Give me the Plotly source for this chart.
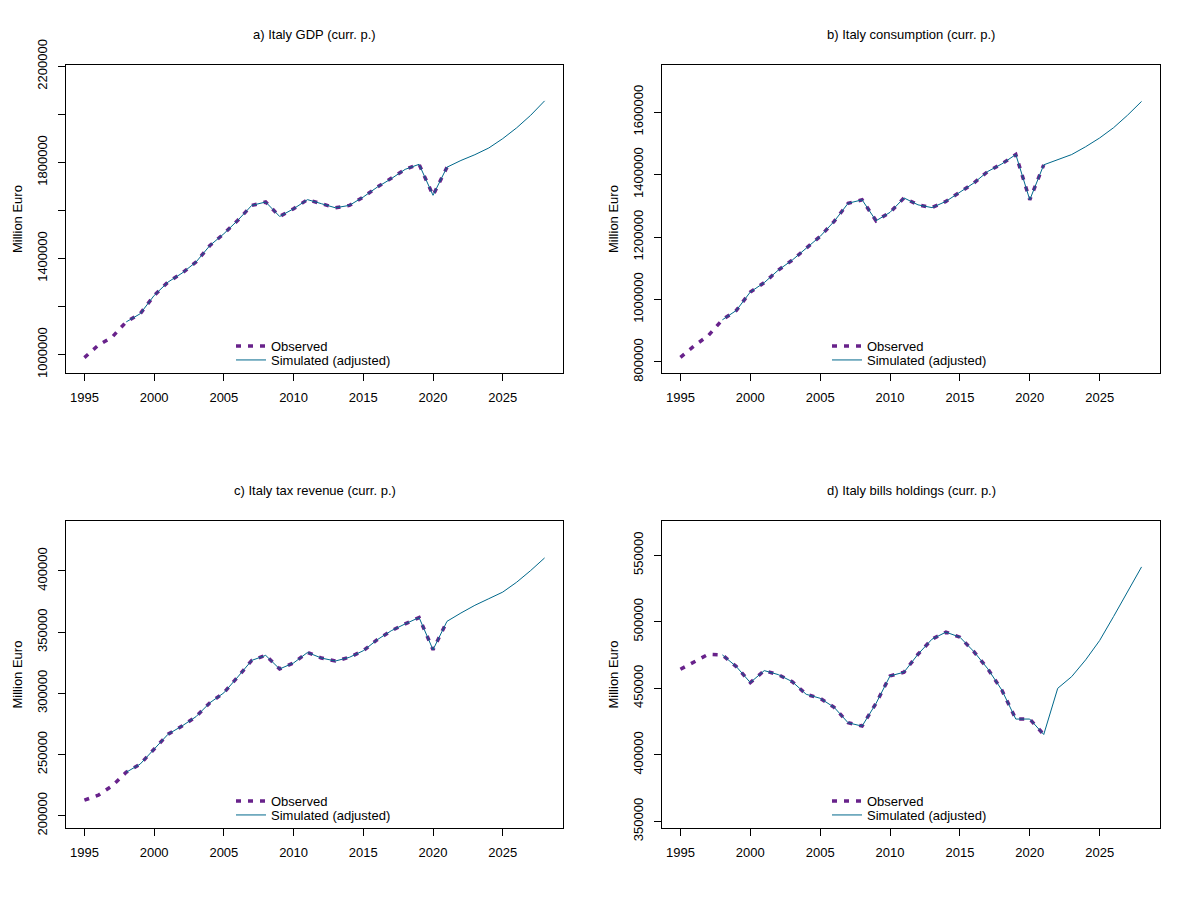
import plotly.graph_objects as go

# ---------------- data ----------------
obs_years = list(range(1995, 2022))
sim_years = list(range(1998, 2029))

gdp_obs = [987500, 1039000, 1073500, 1136000, 1170000, 1246000, 1302000, 1339000, 1385000,
           1454000, 1503000, 1559000, 1621000, 1635000, 1575000, 1607000, 1645000, 1628000,
           1611000, 1621000, 1656000, 1697000, 1732000, 1771000, 1792000, 1663000, 1780000]
gdp_sim = [1136000, 1170000, 1246000, 1302000, 1339000, 1385000, 1454000, 1503000, 1559000,
           1621000, 1635000, 1575000, 1607000, 1645000, 1628000, 1611000, 1621000, 1656000,
           1697000, 1732000, 1771000, 1792000, 1663000, 1780000,
           1808000, 1832000, 1860000, 1899000, 1944000, 1996000, 2056000]

cons_obs = [815000, 852000, 885000, 935000, 965000, 1024000, 1054000, 1094000, 1126000,
            1164000, 1202000, 1250000, 1308000, 1319000, 1252000, 1279000, 1325000, 1303000,
            1294000, 1314000, 1343000, 1373000, 1410000, 1434000, 1464000, 1319000, 1431000]
cons_sim = [935000, 965000, 1024000, 1054000, 1094000, 1126000, 1164000, 1202000, 1250000,
            1308000, 1319000, 1252000, 1279000, 1325000, 1303000, 1294000, 1314000, 1343000,
            1373000, 1410000, 1434000, 1464000, 1319000, 1431000,
            1448000, 1464000, 1489000, 1517000, 1550000, 1590000, 1634000]

tax_obs = [212700, 216800, 224500, 235500, 242200, 254400, 266600, 273300, 280900,
           292300, 300400, 313400, 326900, 331000, 319900, 324800, 333400, 328800,
           326400, 329400, 334800, 343800, 351100, 356700, 361900, 335600, 358800]
tax_sim = [235500, 242200, 254400, 266600, 273300, 280900, 292300, 300400, 313400,
           326900, 331000, 319900, 324800, 333400, 328800, 326400, 329400, 334800,
           343800, 351100, 356700, 361900, 335600, 358800,
           365600, 371900, 377300, 382700, 390800, 400300, 410600]

bills_obs = [464300, 470100, 475600, 475100, 466300, 454300, 463300, 460300, 455000,
             445500, 442500, 435700, 424100, 421600, 438700, 459300, 462100, 475600,
             486900, 492200, 488400, 477600, 464600, 448700, 426900, 426900, 415300]
bills_sim = [475100, 466300, 454300, 463300, 460300, 455000, 445500, 442500, 435700,
             424100, 421600, 438700, 459300, 462100, 475600, 486900, 492200, 488400,
             477600, 464600, 448700, 426900, 426900, 415300,
             450000, 458800, 471400, 485900, 504000, 522900, 541200]

titles = ["a) Italy GDP (curr. p.)", "b) Italy consumption (curr. p.)",
          "c) Italy tax revenue (curr. p.)", "d) Italy bills holdings (curr. p.)"]
x_ticks = [1995, 2000, 2005, 2010, 2015, 2020, 2025]
y_ticks = [
    [1000000, 1200000, 1400000, 1600000, 1800000, 2000000, 2200000],
    [800000, 1000000, 1200000, 1400000, 1600000],
    [200000, 250000, 300000, 350000, 400000],
    [350000, 400000, 450000, 500000, 550000],
]
y_ticklabels = [
    ["1000000", "", "1400000", "", "1800000", "", "2200000"],
    ["800000", "1000000", "1200000", "1400000", "1600000"],
    ["200000", "250000", "300000", "350000", "400000"],
    ["350000", "400000", "450000", "500000", "550000"],
]
y_ranges = [[923300, 2205400], [764700, 1750600], [189970, 440780], [345050, 575700]]
series = [(gdp_obs, gdp_sim), (cons_obs, cons_sim), (tax_obs, tax_sim), (bills_obs, bills_sim)]

# ---------------- layout geometry (pixels, page coords) ----------------
W, H = 1194, 910
OFF = 8  # browser body margin
boxes = [(66, 563, 65, 373), (662, 1160, 65, 373), (66, 563, 521, 828), (662, 1160, 521, 828)]


def px(x):
    return (x - OFF) / W


def py(y):
    return 1 - (y - OFF) / H


OBS_COL = "#68228B"
SIM_COL = "#00688B"
FONT = "Liberation Sans, Arial, sans-serif"
FS = 13

fig = go.Figure()
layout = dict(
    width=W, height=H, margin=dict(l=0, r=0, t=0, b=0, autoexpand=False),
    paper_bgcolor="white", plot_bgcolor="white",
    font=dict(family=FONT, size=FS, color="black"),
    showlegend=True,
    annotations=[],
)

for i in range(4):
    xl, xr, yt, yb = boxes[i]
    sfx = "" if i == 0 else str(i + 1)
    obs, sim = series[i]
    leg_o = "legend" if i == 0 else f"legend{2 * i + 1}"
    leg_s = f"legend{2 * i + 2}"
    fig.add_trace(go.Scatter(x=obs_years, y=obs, mode="lines", name="Observed",
                             line=dict(color=OBS_COL, width=3.5, dash="5px,7px"),
                             xaxis="x" + sfx, yaxis="y" + sfx, legend=leg_o, showlegend=True))
    fig.add_trace(go.Scatter(x=sim_years, y=sim, mode="lines", name="Simulated (adjusted)",
                             line=dict(color=SIM_COL, width=1),
                             xaxis="x" + sfx, yaxis="y" + sfx, legend=leg_s, showlegend=True))
    layout["xaxis" + sfx] = dict(
        domain=[px(xl), px(xr)], anchor="y" + sfx, range=[1993.68, 2029.32],
        tickvals=x_ticks, ticks="outside", ticklen=7, tickcolor="black",
        showline=True, linecolor="black", linewidth=1, mirror=True,
        showgrid=False, zeroline=False, ticklabelstandoff=5, automargin=False,
        tickfont=dict(size=FS, color="black"),
    )
    layout["yaxis" + sfx] = dict(
        domain=[py(yb), py(yt)], anchor="x" + sfx, range=y_ranges[i],
        tickvals=y_ticks[i], ticktext=y_ticklabels[i], tickangle=-90,
        ticks="outside", ticklen=7, tickcolor="black",
        showline=True, linecolor="black", linewidth=1, mirror=True,
        showgrid=False, zeroline=False, ticklabelstandoff=6, automargin=False,
        tickfont=dict(size=FS, color="black"),
    )
    # legend entries inside panel, bottom centre (one legend per row)
    for leg, row_y in ((leg_o, yb - 27), (leg_s, yb - 13)):
        layout[leg] = dict(
            x=px(xl + 165), xanchor="left", y=py(row_y), yanchor="middle",
            bgcolor="rgba(0,0,0,0)", borderwidth=0, itemwidth=30,
            font=dict(size=FS, color="black"), tracegroupgap=0, visible=True,
        )
    # panel title
    layout["annotations"].append(dict(
        text=titles[i], x=px((xl + xr) / 2), y=py(yt - 31), xref="paper", yref="paper",
        showarrow=False, xanchor="center", yanchor="middle", font=dict(size=FS)))
    # y axis title
    layout["annotations"].append(dict(
        text="Million Euro", x=px(xl - 49), y=py((yt + yb) / 2), xref="paper", yref="paper",
        showarrow=False, xanchor="center", yanchor="middle", textangle=-90, font=dict(size=FS)))

fig.update_layout(**layout)
fig.write_html("out.html")
